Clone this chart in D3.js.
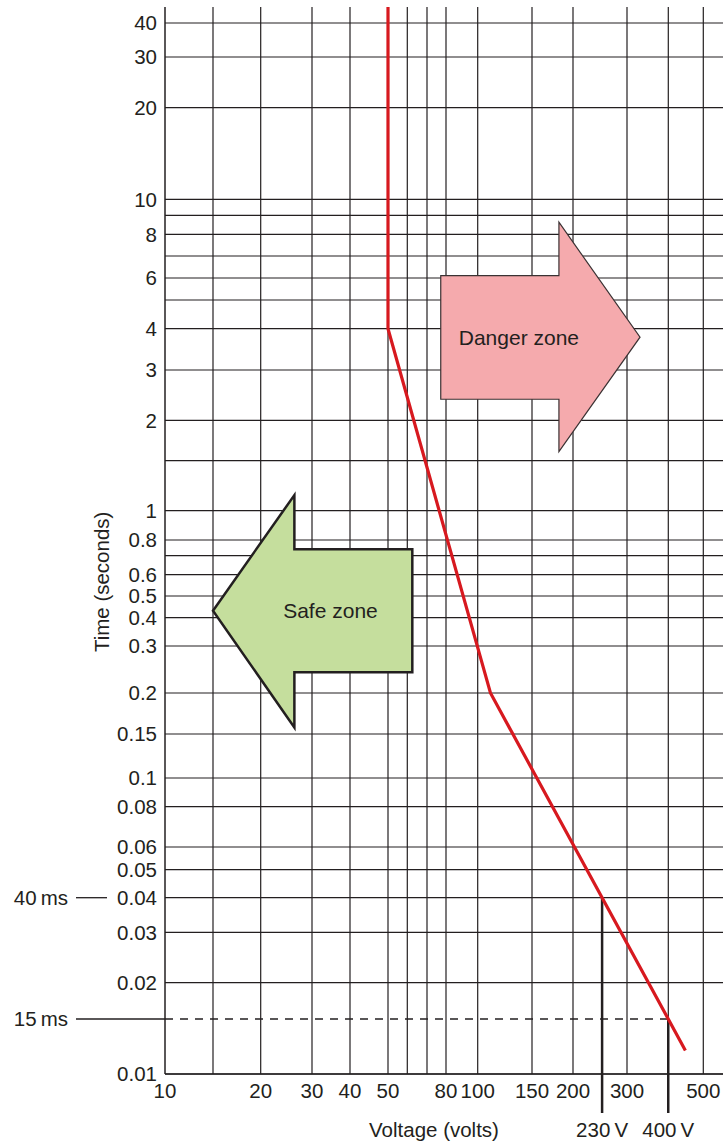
<!DOCTYPE html>
<html>
<head>
<meta charset="utf-8">
<script src="https://cdn.jsdelivr.net/npm/d3@7"></script>
<style>
  html, body { margin: 0; padding: 0; background: #fff; }
  svg { display: block; }
  text { font-family: "Liberation Sans", Arial, Helvetica, sans-serif; fill: #231f20; }
</style>
</head>
<body>
<svg id="chart" width="723" height="1144"></svg>
<script>
// ---------------- DATA ----------------
const voltGrid   = [15, 20, 30, 40, 50, 60, 70, 80, 100, 150, 200, 300, 400, 500];
const voltLabels = [10, 20, 30, 40, 50, 80, 100, 150, 200, 300, 500];
const timeGrid   = [40, 30, 20, 10, 9, 8, 7, 6, 5, 4, 3, 2, 1.5, 1, 0.8, 0.7, 0.6, 0.5,
                    0.4, 0.3, 0.2, 0.15, 0.1, 0.08, 0.06, 0.05, 0.04, 0.03, 0.02, 0.01];
const timeLabels = [40, 30, 20, 10, 8, 6, 4, 3, 2, 1, 0.8, 0.6, 0.5, 0.4, 0.3, 0.2, 0.15,
                    0.1, 0.08, 0.06, 0.05, 0.04, 0.03, 0.02, 0.01];
const timeTickText = ["40","30","20","10","8","6","4","3","2","1","0.8","0.6","0.5","0.4",
                      "0.3","0.2","0.15","0.1","0.08","0.06","0.05","0.04","0.03","0.02","0.01"];

// limit curve (voltage V, time s)
const curveVolts = [50, 50, 110, 446];
const curveTimes = [45.8, 4, 0.2, 0.0119];

// disconnection-time markers
const markerTimes      = [0.04, 0.015];
const markerTimeLabels = ["40\u2009ms", "15\u2009ms"];
const markerVoltLabels = ["230\u2009V", "400\u2009V"];

// zone arrows (voltage, time)
const dangerArrowV = [77.1, 181.2, 181.2, 328.5, 181.2, 181.2, 77.1];
const dangerArrowT = [6.10, 6.10, 8.62, 3.77, 1.60, 2.37, 2.37];
const safeArrowV   = [15, 26.1, 26.1, 62.4, 62.4, 26.1, 26.1];
const safeArrowT   = [0.43, 1.135, 0.739, 0.739, 0.239, 0.239, 0.157];
const zoneLabels   = ["Danger zone", "Safe zone"];
const zoneLabelV   = [136, 34.5];
const zoneLabelT   = [3.77, 0.43];

const xTitle = "Voltage (volts)";
const yTitle = "Time (seconds)";

// ---------------- SCALES ----------------
// The printed grid is a hand-drawn log-log grid; a piecewise log scale follows its spacing.
const x = d3.scaleLog()
  .domain([10, 15, 20, 30, 40, 50, 60, 70, 80, 100, 150, 200, 300, 400, 500, 567])
  .range([165, 213, 260.7, 312, 350, 388, 407.3, 427, 446, 477.7, 532, 573, 627, 668.3, 703.3, 723]);
const y = d3.scaleLog()
  .domain([45.8, 40, 30, 20, 10, 9, 8, 7, 6, 5, 4, 3, 2, 1.5, 1, 0.8, 0.7, 0.6, 0.5, 0.4, 0.3,
           0.2, 0.15, 0.1, 0.08, 0.06, 0.05, 0.04, 0.03, 0.02, 0.015, 0.01])
  .range([7, 23, 57, 107.7, 199.3, 215.3, 234.3, 256, 278, 300, 328.7, 370, 420.3, 460.7, 510.7,
          540, 555.7, 574.7, 596, 617.7, 646, 693, 734, 778, 806.7, 847, 869.7, 897.7, 932.3,
          982.7, 1019, 1074]);

const x0 = x(10), x1 = 723, yTop = y(45.8), yBot = y(0.01);
const ink = "#231f20";
const svg = d3.select("#chart");

// ---------------- GRID ----------------
const grid = svg.append("g").attr("stroke", ink).attr("stroke-width", 1.2);
grid.selectAll("line.v").data(voltGrid).join("line").attr("class", "v")
  .attr("x1", d => x(d)).attr("x2", d => x(d)).attr("y1", yTop).attr("y2", yBot);
grid.selectAll("line.h").data(timeGrid).join("line").attr("class", "h")
  .attr("x1", x0).attr("x2", x1).attr("y1", d => y(d)).attr("y2", d => y(d));

// axis lines
svg.append("line").attr("x1", x0).attr("x2", x0).attr("y1", yTop).attr("y2", yBot)
  .attr("stroke", ink).attr("stroke-width", 1.5);
svg.append("line").attr("x1", x0).attr("x2", x1).attr("y1", yBot).attr("y2", yBot)
  .attr("stroke", ink).attr("stroke-width", 1.5);

// tick labels
svg.append("g").selectAll("text").data(voltLabels).join("text")
  .attr("x", d => x(d)).attr("y", yBot + 24)
  .attr("text-anchor", "middle").attr("font-size", 20.5)
  .text(d => String(d));
svg.append("g").selectAll("text").data(timeLabels).join("text")
  .attr("x", x0 - 8).attr("y", d => y(d)).attr("dy", "0.36em")
  .attr("text-anchor", "end").attr("font-size", 20.5)
  .text((d, i) => timeTickText[i]);

// axis titles
svg.append("text").attr("x", 434).attr("y", yBot + 63)
  .attr("text-anchor", "middle").attr("font-size", 20.5).text(xTitle);
svg.append("text").attr("transform", `translate(109,${(y(1.5) + y(0.2)) / 2 + 5}) rotate(-90)`)
  .attr("text-anchor", "middle").attr("font-size", 20.5).text(yTitle);

// ---------------- ARROWS ----------------
const poly = (vs, ts) => vs.map((v, i) => [x(v), y(ts[i])].join(",")).join(" ");
svg.append("polygon").attr("points", poly(dangerArrowV, dangerArrowT))
  .attr("fill", "#f5aaad").attr("stroke", "#3a3233").attr("stroke-width", 1.2)
  .attr("stroke-linejoin", "miter");
svg.append("polygon").attr("points", poly(safeArrowV, safeArrowT))
  .attr("fill", "#c5de9d").attr("stroke", ink).attr("stroke-width", 2.5)
  .attr("stroke-linejoin", "miter");
svg.append("g").selectAll("text").data(zoneLabels).join("text")
  .attr("x", (d, i) => x(zoneLabelV[i])).attr("y", (d, i) => y(zoneLabelT[i])).attr("dy", "0.36em")
  .attr("text-anchor", "middle").attr("font-size", 21).text(d => d);

// ---------------- CURVE ----------------
const curvePts = curveVolts.map((v, i) => [x(v), y(curveTimes[i])]);
// x pixel where the curve crosses a given time
function curveXAt(t) {
  const py = y(t);
  for (let i = 0; i < curvePts.length - 1; i++) {
    const [ax, ay] = curvePts[i], [bx, by] = curvePts[i + 1];
    if ((py - ay) * (py - by) <= 0 && ay !== by) return ax + (bx - ax) * (py - ay) / (by - ay);
  }
  return null;
}

// ---------------- MARKERS ----------------
const gridSet = new Set(timeGrid);
markerTimes.forEach((t, i) => {
  const py = y(t), px = curveXAt(t);
  const onGrid = gridSet.has(t);
  // left leader line
  svg.append("line").attr("x1", 76).attr("x2", onGrid ? 107 : x0).attr("y1", py).attr("y2", py)
    .attr("stroke", ink).attr("stroke-width", 1.3);
  if (!onGrid) {
    svg.append("line").attr("x1", x0).attr("x2", px).attr("y1", py).attr("y2", py)
      .attr("stroke", ink).attr("stroke-width", 1.3).attr("stroke-dasharray", "8,7");
  }
  svg.append("text").attr("x", 68).attr("y", py).attr("dy", "0.36em")
    .attr("text-anchor", "end").attr("font-size", 20.5).text(markerTimeLabels[i]);
  // vertical drop line to the voltage label
  svg.append("line").attr("x1", px).attr("x2", px).attr("y1", py).attr("y2", yBot + 39)
    .attr("stroke", ink).attr("stroke-width", 2.5);
  svg.append("text").attr("x", px).attr("y", yBot + 63)
    .attr("text-anchor", "middle").attr("font-size", 20.5).text(markerVoltLabels[i]);
});

// red limit curve on top
svg.append("path").datum(curvePts)
  .attr("d", d3.line())
  .attr("fill", "none").attr("stroke", "#d7191f").attr("stroke-width", 3.2)
  .attr("stroke-linejoin", "miter");
</script>
</body>
</html>
